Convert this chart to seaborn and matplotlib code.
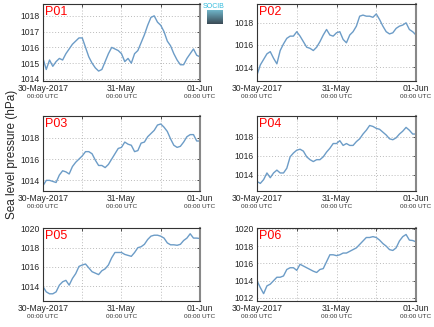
import numpy as np
import pandas as pd
import matplotlib
matplotlib.use("Agg")
import matplotlib.pyplot as plt
import seaborn as sns
from matplotlib.transforms import blended_transform_factory

hours = list(range(49))
stations = ["P01", "P02", "P03", "P04", "P05", "P06"]

p01 = [1015.3, 1014.6, 1015.2, 1014.8, 1015.1, 1015.3, 1015.2, 1015.6, 1015.9, 1016.2,
       1016.4, 1016.6, 1016.6, 1016.0, 1015.4, 1015.0, 1014.7, 1014.5, 1014.6, 1015.1,
       1015.6, 1016.0, 1015.9, 1015.8, 1015.6, 1015.1, 1015.3, 1015.0, 1015.6, 1015.8,
       1016.3, 1016.8, 1017.4, 1017.9, 1018.0, 1017.6, 1017.4, 1017.0, 1016.4, 1016.1,
       1015.6, 1015.2, 1014.9, 1014.9, 1015.3, 1015.6, 1015.9, 1015.5, 1015.4]
p02 = [1013.3, 1014.2, 1014.7, 1015.2, 1015.4, 1014.8, 1014.3, 1015.5, 1016.1, 1016.6,
       1016.8, 1016.8, 1017.2, 1016.8, 1016.3, 1015.8, 1015.7, 1015.5, 1015.8, 1016.3,
       1016.9, 1017.4, 1016.9, 1016.8, 1017.1, 1017.2, 1016.5, 1016.2, 1016.9, 1017.2,
       1017.7, 1018.6, 1018.7, 1018.6, 1018.6, 1018.5, 1018.8, 1018.3, 1017.7, 1017.2,
       1017.0, 1017.1, 1017.5, 1017.7, 1017.8, 1018.0, 1017.4, 1017.2, 1016.9]
p03 = [1013.5, 1014.0, 1014.0, 1013.9, 1013.8, 1014.5, 1014.9, 1014.8, 1014.6, 1015.3,
       1015.7, 1016.0, 1016.3, 1016.7, 1016.7, 1016.5, 1015.9, 1015.4, 1015.4, 1015.2,
       1015.5, 1016.0, 1016.5, 1017.0, 1017.1, 1017.6, 1017.4, 1017.3, 1016.7, 1016.8,
       1017.5, 1017.6, 1018.1, 1018.4, 1018.7, 1019.2, 1019.3, 1019.0, 1018.6, 1017.9,
       1017.3, 1017.1, 1017.2, 1017.6, 1018.1, 1018.3, 1018.3, 1017.7, 1017.7]
p04 = [1013.3, 1013.1, 1013.5, 1014.2, 1013.7, 1014.2, 1014.5, 1014.2, 1014.2, 1014.7,
       1015.9, 1016.3, 1016.6, 1016.7, 1016.5, 1015.9, 1015.6, 1015.4, 1015.6, 1015.6,
       1015.9, 1016.4, 1016.8, 1017.3, 1017.3, 1017.6, 1017.1, 1017.3, 1017.1, 1017.1,
       1017.5, 1017.8, 1018.3, 1018.7, 1019.2, 1019.1, 1018.9, 1018.8, 1018.5, 1018.2,
       1017.8, 1017.7, 1017.9, 1018.3, 1018.6, 1019.0, 1018.7, 1018.3, 1018.3]
p05 = [1013.95, 1013.4, 1013.2, 1013.2, 1013.4, 1014.1, 1014.45, 1014.6, 1014.1, 1014.8,
       1015.3, 1016.05, 1016.2, 1016.3, 1015.9, 1015.5, 1015.35, 1015.2, 1015.6, 1015.8,
       1016.2, 1016.95, 1017.5, 1017.5, 1017.5, 1017.3, 1017.2, 1017.1, 1017.5, 1018.0,
       1018.1, 1018.35, 1018.85, 1019.2, 1019.3, 1019.3, 1019.2, 1019.0, 1018.5, 1018.3,
       1018.3, 1018.25, 1018.35, 1018.75, 1019.0, 1019.45, 1019.0, 1019.0, 1018.95]
p06 = [1014.0, 1013.2, 1012.5, 1013.4, 1013.6, 1014.0, 1014.4, 1014.4, 1014.55, 1015.3,
       1015.5, 1015.5, 1015.2, 1015.9, 1015.7, 1015.5, 1015.3, 1015.1, 1014.95, 1015.3,
       1015.4, 1016.2, 1017.0, 1017.0, 1016.9, 1017.0, 1017.2, 1017.2, 1017.4, 1017.6,
       1017.8, 1018.2, 1018.6, 1019.0, 1019.0, 1019.1, 1019.0, 1018.7, 1018.3, 1018.0,
       1017.6, 1017.5, 1017.8, 1018.6, 1019.1, 1019.35, 1018.7, 1018.65, 1018.5]

series = [p01, p02, p03, p04, p05, p06]
ylims = [(1013.87, 1018.75), (1012.75, 1019.7), (1013.0, 1020.05),
         (1012.3, 1020.2), (1012.45, 1020.05), (1011.65, 1020.1)]
yticks = [[1014, 1015, 1016, 1017, 1018], [1014, 1016, 1018], [1014, 1016, 1018],
          [1014, 1016, 1018], [1014, 1016, 1018, 1020], [1012, 1014, 1016, 1018, 1020]]
xtick_pos = [0, 24, 48]
xtick_labels = ["30-May-2017", "31-May", "01-Jun"]
xtick_sub = "00:00 UTC"

sns.set_style("white")
plt.rcParams['font.family'] = ['Liberation Sans', 'DejaVu Sans']

W, H = 435, 327
fig = plt.figure(figsize=(W / 100, H / 100), dpi=100)

cols = [(43, 200), (257, 416)]
rows = [(4, 81), (116, 191), (228, 301)]
line_color = "#6c9cc7"
frame_color = "#333333"

for i, (name, vals) in enumerate(zip(stations, series)):
    r, c = divmod(i, 2)
    x0, x1 = cols[c]
    y0, y1 = rows[r]
    ax = fig.add_axes([x0 / W, 1 - y1 / H, (x1 - x0) / W, (y1 - y0) / H])
    df = pd.DataFrame({"hour": hours, "pressure": vals})
    sns.lineplot(data=df, x="hour", y="pressure", ax=ax, color=line_color, linewidth=1.0)
    ax.set_xlim(0, 48)
    ax.set_ylim(*ylims[i])
    ax.set_yticks(yticks[i])
    ax.set_yticklabels([str(v) for v in yticks[i]], fontsize=6.2)
    ax.set_xticks(xtick_pos)
    ax.set_xticklabels(xtick_labels, fontsize=6.2)
    ax.set_xticks([12, 36], minor=True)
    ax.tick_params(which="both", direction="in", top=True, right=True, length=2.5,
                   width=0.6, color=frame_color, pad=2.2)
    ax.set_xlabel("")
    ax.set_ylabel("")
    for xv in [12, 24, 36]:
        ax.axvline(xv, color="#bbbbbb", linestyle=(0, (1, 2)), linewidth=0.7, zorder=0)
    for yv in yticks[i]:
        ax.axhline(yv, color="#bbbbbb", linestyle=(0, (1, 2)), linewidth=0.7, zorder=0)
    for s in ax.spines.values():
        s.set_color(frame_color)
        s.set_linewidth(0.8)
    ax.spines["right"].set_color("#888888")
    ax.spines["right"].set_linewidth(1.5)
    for xp in xtick_pos:
        ax.annotate(xtick_sub, xy=(xp, 0), xycoords=("data", "axes fraction"),
                    xytext=(0, -9.2), textcoords="offset points", ha="center", va="top",
                    fontsize=4.6, color="#333333")
    ax.text(0.015, 0.97, name, transform=ax.transAxes, ha="left", va="top",
            fontsize=9, color="red")

fig.text(12 / W, 1 - 154 / H, "Sea level pressure (hPa)", rotation=90,
         ha="center", va="center", fontsize=8.5)

# small SOCIB logo
fig.text(214 / W, 1 - 6 / H, "SOCIB", ha="center", va="center", fontsize=5,
         color="#33bbdd")
lax = fig.add_axes([207 / W, 1 - 24 / H, 16 / W, 14 / H])
grad = np.linspace(0, 1, 50).reshape(-1, 1)
lax.imshow(grad, aspect="auto", cmap=matplotlib.colors.LinearSegmentedColormap.from_list(
    "g", ["#6fb4c8", "#3a4a55"]))
lax.axis("off")

fig.savefig("out.png", dpi=100)
